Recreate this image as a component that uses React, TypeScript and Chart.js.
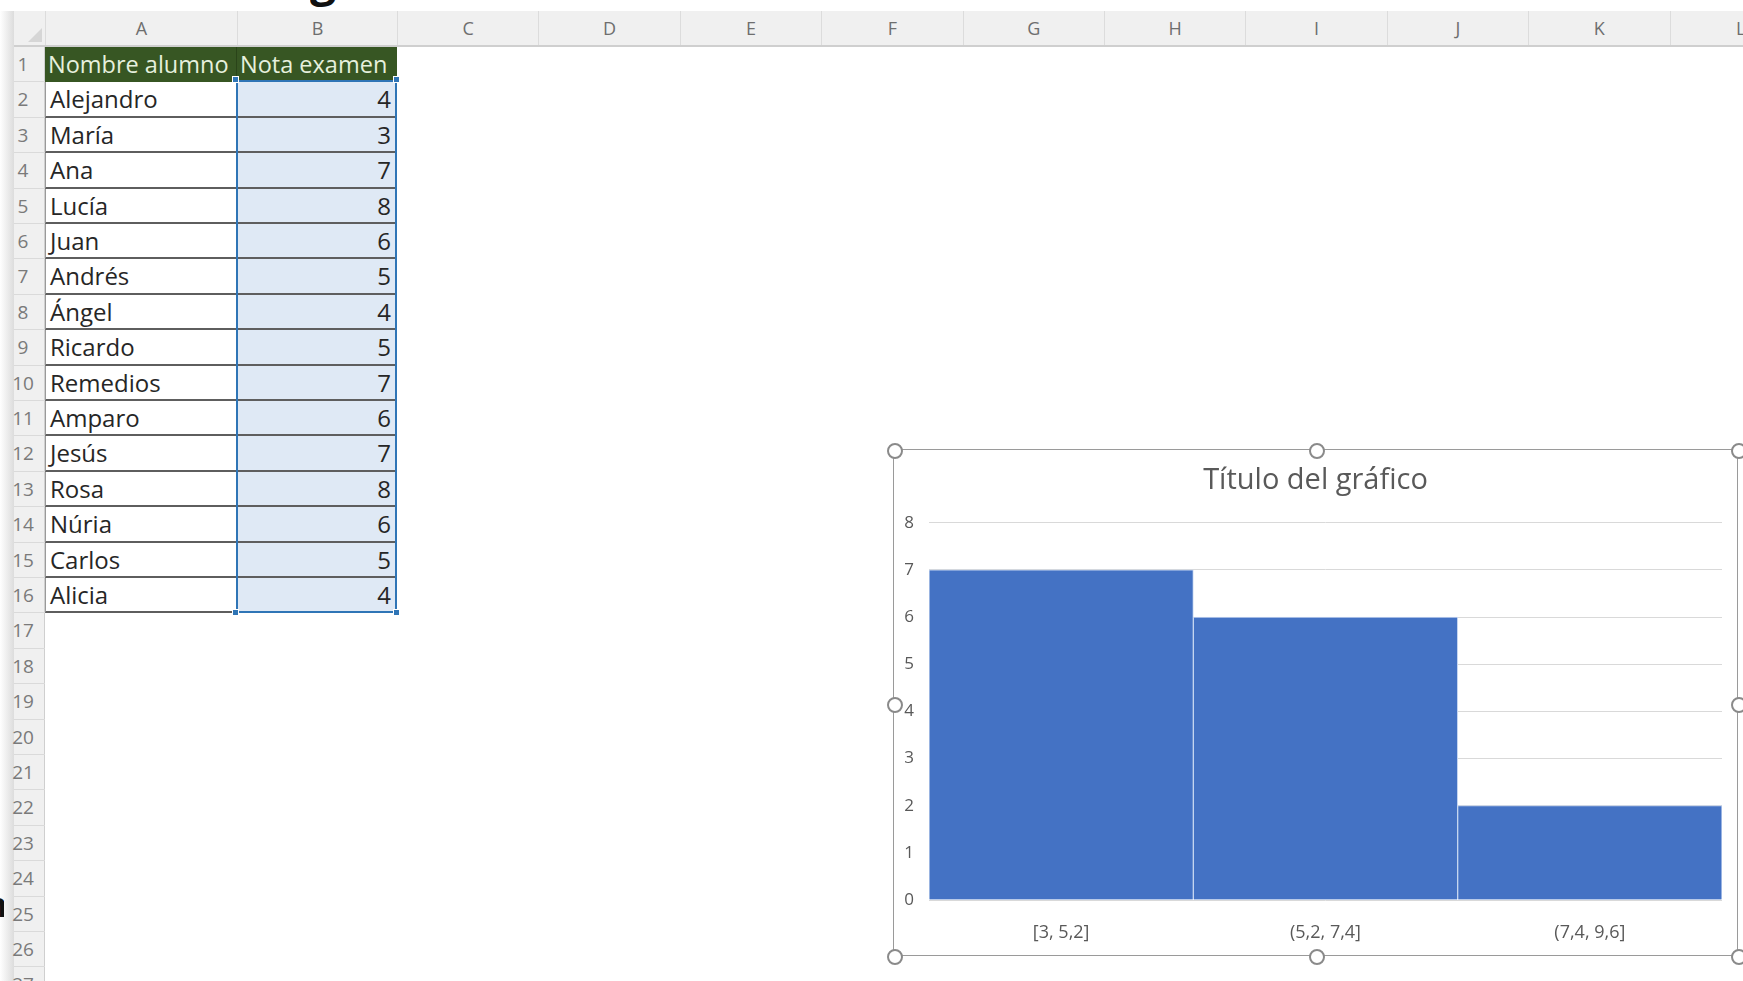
import React, { useEffect, useRef } from "react";
import { Chart, registerables } from "chart.js";

Chart.register(...registerables);

// ---------- Data ----------
const columnLetters = ["A", "B", "C", "D", "E", "F", "G", "H", "I", "J", "K", "L"];
const headerLabels = ["Nombre alumno", "Nota examen"];
const studentNames = [
  "Alejandro", "María", "Ana", "Lucía", "Juan", "Andrés", "Ángel", "Ricardo",
  "Remedios", "Amparo", "Jesús", "Rosa", "Núria", "Carlos", "Alicia",
];
const examScores = [4, 3, 7, 8, 6, 5, 4, 5, 7, 6, 7, 8, 6, 5, 4];
const chartTitle = "Título del gráfico";
const binLabels = ["[3, 5,2]", "(5,2, 7,4]", "(7,4, 9,6]"];
const binCounts = [7, 6, 2];
const yAxisMax = 8;

// ---------- Layout ----------
const FONT = "'Open Sans', sans-serif";
const ROW_TOP = 47;
const ROW_H = 35.4;
const ROW_COUNT = 27;
const colEdges = [45, 237, 397];
const COL_W = 141.4;
for (let i = 3; i <= columnLetters.length; i++) colEdges.push(397 + (i - 2) * COL_W);

const rowTop = (r: number) => ROW_TOP + (r - 1) * ROW_H;

const CHART_LEFT = 893;
const CHART_TOP = 449;
const CHART_W = 845;
const CHART_H = 507;

function HistogramChart() {
  const ref = useRef<HTMLCanvasElement | null>(null);
  useEffect(() => {
    if (!ref.current) return;
    const chart = new Chart(ref.current, {
      type: "bar",
      data: {
        labels: binLabels,
        datasets: [
          {
            data: binCounts,
            backgroundColor: "#4472C4",
            borderColor: "#c5d5f0",
            borderWidth: 1,
            barPercentage: 1,
            categoryPercentage: 1,
          },
        ],
      },
      options: {
        responsive: false,
        animation: false,
        layout: { padding: { left: 0, right: 0, top: 0, bottom: 0 } },
        plugins: {
          legend: { display: false },
          tooltip: { enabled: false },
          title: {
            display: true,
            text: chartTitle,
            color: "#595959",
            font: { family: FONT, size: 29, weight: "normal" },
            padding: { top: 13, bottom: 25 },
          },
        },
        scales: {
          x: {
            grid: { display: false, drawTicks: false },
            border: { display: false },
            ticks: {
              color: "#595959",
              font: { family: FONT, size: 18 },
              padding: 22,
              maxRotation: 0,
            },
            afterFit: (s: any) => {
              s.height = 55;
            },
          },
          y: {
            min: 0,
            max: yAxisMax,
            grid: { color: "#d9d9d9", lineWidth: 1, drawTicks: false },
            border: { display: false },
            ticks: {
              stepSize: 1,
              color: "#595959",
              font: { family: FONT, size: 17 },
              padding: 15,
            },
            afterFit: (s: any) => {
              s.width = 35;
            },
          },
          rightSpace: {
            type: "linear",
            position: "right",
            display: true,
            grid: { display: false, drawTicks: false },
            border: { display: false },
            ticks: { display: false },
            afterFit: (s: any) => {
              s.width = 15;
            },
          },
        },
      },
    });
    return () => chart.destroy();
  }, []);
  return (
    <canvas
      ref={ref}
      width={CHART_W - 2}
      height={CHART_H - 2}
      style={{ position: "absolute", left: CHART_LEFT + 1, top: CHART_TOP + 1, width: CHART_W - 2, height: CHART_H - 2 }}
    />
  );
}

function Handle({ x, y }: { x: number; y: number }) {
  return (
    <div
      style={{
        position: "absolute",
        left: x - 8,
        top: y - 8,
        width: 12,
        height: 12,
        borderRadius: "50%",
        border: "2px solid #8a8a8a",
        background: "#fff",
      }}
    />
  );
}

export default function App() {
  const cells: React.ReactNode[] = [];

  // column header bar
  cells.push(
    <div key="colbar" style={{ position: "absolute", left: 14, top: 11, width: 1743, height: 36, background: "#f0f0f0", borderBottom: "2px solid #cfcfcf", boxSizing: "border-box" }} />
  );
  // select-all triangle
  cells.push(
    <div key="tri" style={{ position: "absolute", left: 28, top: 28, width: 0, height: 0, borderLeft: "14px solid transparent", borderBottom: "14px solid #d6d6d6" }} />
  );
  columnLetters.forEach((c, i) => {
    const l = colEdges[i];
    const r = colEdges[i + 1];
    cells.push(
      <div key={"col" + c} style={{ position: "absolute", left: l, top: 11, width: r - l, height: 34, lineHeight: "34px", textAlign: "center", color: "#6e6e6e", fontSize: 18, fontFamily: FONT, borderLeft: "1px solid #dcdcdc", boxSizing: "border-box" }}>
        {c}
      </div>
    );
  });

  // row header column
  cells.push(
    <div key="rowbar" style={{ position: "absolute", left: 14, top: 47, width: 31, height: 981 - 47, background: "#f0f0f0", borderRight: "1px solid #cfcfcf", boxSizing: "border-box" }} />
  );
  cells.push(
    <div key="shadow" style={{ position: "absolute", left: 0, top: 11, width: 14, height: 970, background: "linear-gradient(to right, #ffffff, #dcdcdc)" }} />
  );
  for (let r = 1; r <= ROW_COUNT; r++) {
    cells.push(
      <div key={"rn" + r} style={{ position: "absolute", left: 9, top: rowTop(r), width: 28, height: ROW_H, lineHeight: ROW_H + "px", textAlign: "center", color: "#7a7a7a", fontSize: 19, fontFamily: FONT }}>
        {r}
      </div>
    );
    cells.push(
      <div key={"rl" + r} style={{ position: "absolute", left: 14, top: rowTop(r + 1) - 1, width: 31, height: 1, background: "#dadada" }} />
    );
  }

  // header row
  headerLabels.forEach((h, i) => {
    const l = colEdges[i];
    const r = colEdges[i + 1];
    cells.push(
      <div key={"h" + i} style={{ position: "absolute", left: l, top: rowTop(1), width: r - l, height: ROW_H, lineHeight: ROW_H + "px", background: "#375623", color: "#e6f0dd", fontSize: 23.5, fontFamily: FONT, paddingLeft: 3, boxSizing: "border-box", whiteSpace: "nowrap", overflow: "hidden", borderRight: i === 0 ? "1px solid #2a4419" : undefined }}>
        {h}
      </div>
    );
  });

  // data rows
  studentNames.forEach((name, i) => {
    const r = i + 2;
    cells.push(
      <div key={"a" + r} style={{ position: "absolute", left: colEdges[0], top: rowTop(r), width: colEdges[1] - colEdges[0], height: ROW_H, lineHeight: ROW_H - 1 + "px", background: "#fff", color: "#262626", fontSize: 24, fontFamily: FONT, paddingLeft: 4, boxSizing: "border-box", borderBottom: "2px solid #5e5e5e", borderLeft: "1px solid #9a9a9a", whiteSpace: "nowrap" }}>
        {name}
      </div>
    );
    cells.push(
      <div key={"b" + r} style={{ position: "absolute", left: colEdges[1], top: rowTop(r), width: colEdges[2] - colEdges[1], height: ROW_H, lineHeight: ROW_H - 1 + "px", background: "#dfe9f5", color: "#262626", fontSize: 24, fontFamily: FONT, paddingRight: 6, textAlign: "right", boxSizing: "border-box", borderBottom: "2px solid #5e5e5e" }}>
        {examScores[i]}
      </div>
    );
  });

  // selection
  const selL = 236, selT = 80, selR = 397, selB = 613;
  cells.push(
    <div key="sel" style={{ position: "absolute", left: selL, top: selT, width: selR - selL, height: selB - selT, border: "2px solid #2f75b6", boxSizing: "border-box" }} />
  );
  [[selL, selT], [selR, selT], [selL, selB], [selR, selB]].forEach(([x, y], i) => {
    cells.push(
      <div key={"sh" + i} style={{ position: "absolute", left: x - 4, top: y - 4, width: 7, height: 7, background: "#2f75b6", border: "1px solid #fff", boxSizing: "border-box" }} />
    );
  });

  // clipped heading glyph at the very top
  cells.push(
    <div key="topg" style={{ position: "absolute", left: 310, top: 0, width: 36, height: 9, overflow: "hidden" }}>
      <div style={{ position: "absolute", top: -45, left: 0, fontSize: 46, lineHeight: "46px", fontWeight: "bold", fontFamily: FONT, color: "#111" }}>g</div>
    </div>
  );
  // clipped glyph at the left edge
  cells.push(
    <div key="leftn" style={{ position: "absolute", left: 0, top: 892, width: 4, height: 30, overflow: "hidden" }}>
      <div style={{ position: "absolute", top: -8, left: -15, fontSize: 34, lineHeight: "40px", fontWeight: "bold", fontFamily: FONT, color: "#111" }}>n</div>
    </div>
  );

  return (
    <div style={{ position: "fixed", left: 0, top: 0, width: 1743, height: 981, overflow: "hidden", background: "#fff", fontFamily: FONT }}>
      {cells}
      <div style={{ position: "absolute", left: CHART_LEFT, top: CHART_TOP, width: CHART_W, height: CHART_H, border: "1.5px solid #9a9a9a", boxSizing: "border-box", background: "#fff" }} />
      <HistogramChart />
      {[
        [CHART_LEFT, CHART_TOP], [CHART_LEFT + CHART_W / 2 - 1, CHART_TOP], [CHART_LEFT + CHART_W - 1, CHART_TOP],
        [CHART_LEFT, CHART_TOP + CHART_H / 2], [CHART_LEFT + CHART_W - 1, CHART_TOP + CHART_H / 2],
        [CHART_LEFT, CHART_TOP + CHART_H - 1], [CHART_LEFT + CHART_W / 2 - 1, CHART_TOP + CHART_H - 1], [CHART_LEFT + CHART_W - 1, CHART_TOP + CHART_H - 1],
      ].map(([x, y], i) => (
        <Handle key={"hd" + i} x={x + 2} y={y + 2} />
      ))}
    </div>
  );
}
